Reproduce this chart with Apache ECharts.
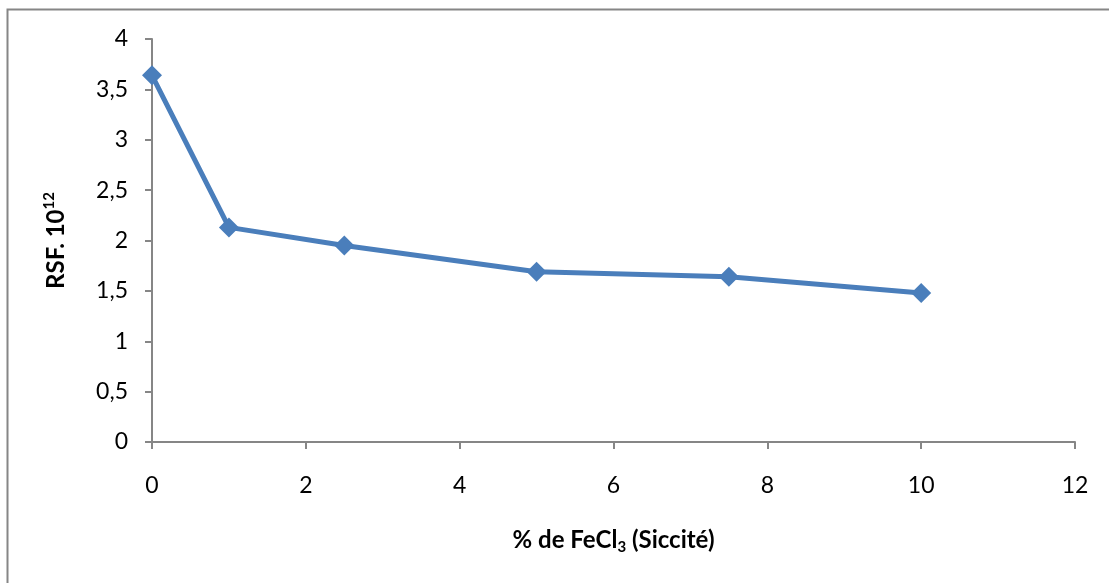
<!DOCTYPE html>
<html>
<head>
<meta charset="utf-8">
<style>html,body{margin:0;padding:0;background:#fff;}#c{width:1109px;height:583px;}</style>
<script src="https://cdn.jsdelivr.net/npm/echarts@6/dist/echarts.min.js"></script>
</head>
<body>
<div id="c"></div>
<script>
const xValues = [0, 1, 2.5, 5, 7.5, 10];
const yValues = [3.64, 2.13, 1.95, 1.69, 1.64, 1.48];
const xTitle = ['% de FeCl', '3', ' (Siccité)'];
const yTitle = ['RSF. 10', '12'];

const chart = echarts.init(document.getElementById('c'), null, {renderer: 'canvas'});
const font = 'Lato, "Open Sans", "Liberation Sans", sans-serif';
chart.setOption({
  animation: false,
  backgroundColor: '#fff',
  graphic: [{
    type: 'rect', shape: {x: 7.5, y: 9.5, width: 1200, height: 700},
    style: {fill: 'none', stroke: '#868686', lineWidth: 2}, z: -1
  }],
  grid: {left: 152, right: 34, top: 39, bottom: 141, containLabel: false},
  xAxis: {
    type: 'value', min: 0, max: 12, interval: 2,
    name: '{a|' + xTitle[0] + '}{s|' + xTitle[1] + '}{a|' + xTitle[2] + '}', nameLocation: 'middle', nameGap: 84,
    nameTextStyle: {rich: {
      a: {fontFamily: font, fontWeight: 'bold', fontSize: 24, color: '#000'},
      s: {fontFamily: font, fontWeight: 'bold', fontSize: 15, color: '#000', padding: [14,0,0,0]}
    }},
    axisLine: {show: true, lineStyle: {color: '#868686', width: 2}},
    axisTick: {show: true, inside: false, length: 7, lineStyle: {color: '#868686', width: 2}},
    axisLabel: {fontFamily: font, fontSize: 23, color: '#000', margin: 32},
    splitLine: {show: false}
  },
  yAxis: {
    type: 'value', min: 0, max: 4, interval: 0.5,
    name: '{a|' + yTitle[0] + '}{s|' + yTitle[1] + '}', nameLocation: 'middle', nameGap: 81, nameRotate: 90,
    nameTextStyle: {rich: {
      a: {fontFamily: font, fontWeight: 'bold', fontSize: 24, color: '#000'},
      s: {fontFamily: font, fontWeight: 'bold', fontSize: 15, color: '#000', padding: [0,0,14,0]}
    }},
    axisLine: {show: true, lineStyle: {color: '#868686', width: 2}},
    axisTick: {show: true, inside: false, length: 7, lineStyle: {color: '#868686', width: 2}},
    axisLabel: {fontFamily: font, fontSize: 23, color: '#000', margin: 24,
      formatter: v => String(v).replace('.', ',')},
    splitLine: {show: false}
  },
  series: [{
    type: 'line',
    data: xValues.map((x, i) => [x, yValues[i]]),
    symbol: 'diamond', symbolSize: 20,
    itemStyle: {color: '#4A7EBB'},
    lineStyle: {color: '#4A7EBB', width: 5},
    z: 3
  }]
});
</script>
</body>
</html>
